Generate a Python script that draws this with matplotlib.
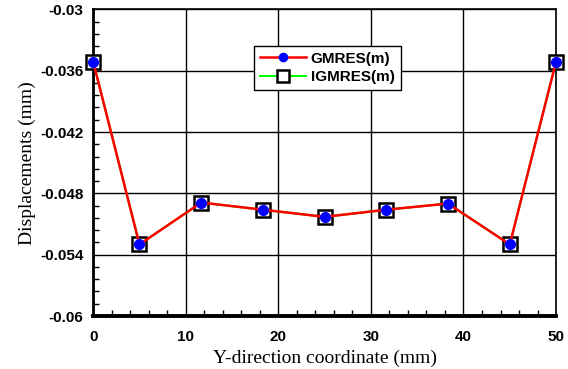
import numpy as np
from matplotlib import pyplot as plt
from matplotlib.ticker import MultipleLocator, AutoMinorLocator

y_coord = [0, 5, 11.67, 18.33, 25, 31.67, 38.33, 45, 50]
disp_gmres = [-0.0351, -0.0530, -0.0489, -0.0496, -0.0503, -0.0496, -0.0490, -0.0530, -0.0351]
disp_igmres = [-0.0351, -0.0530, -0.0489, -0.0496, -0.0503, -0.0496, -0.0490, -0.0530, -0.0351]

fig = plt.figure(figsize=(5.68, 3.69), dpi=100)
ax = fig.add_axes([0.164, 0.1436, 0.815, 0.831])

l2, = ax.plot(y_coord, disp_igmres, '-', color='#00ff00', lw=1.5, marker='s', ms=9.5,
              mfc='white', mec='black', mew=1.8, zorder=3, clip_on=False)
l1, = ax.plot(y_coord, disp_gmres, '-', color='red', lw=1.8, marker='o', ms=7,
              mfc='blue', mec='blue', zorder=4, clip_on=False)

ax.set_xlim(0, 50)
ax.set_ylim(-0.06, -0.03)
ax.xaxis.set_major_locator(MultipleLocator(10))
ax.xaxis.set_minor_locator(AutoMinorLocator(5))
ax.yaxis.set_minor_locator(AutoMinorLocator(5))
ax.set_yticks([-0.06, -0.054, -0.048, -0.042, -0.036, -0.03])
ax.set_yticklabels(['-0.06', '-0.054', '-0.048', '-0.042', '-0.036', '-0.03'])
ax.grid(True, which='major', color='black', lw=1.0)
ax.tick_params(which='both', direction='in', top=False, right=False, width=1)
ax.tick_params(which='major', length=0)
ax.tick_params(axis='y', which='major', pad=7)
ax.tick_params(axis='x', which='major', pad=10)
ax.tick_params(which='minor', length=4)
for lab in ax.get_xticklabels() + ax.get_yticklabels():
    lab.set_fontfamily('Liberation Sans')
    lab.set_fontweight('bold')
    lab.set_fontsize(11)
ax.spines['left'].set_linewidth(2.0)
ax.spines['bottom'].set_linewidth(2.8)
for s in ['top', 'right']:
    ax.spines[s].set_linewidth(1.2)

ax.set_xlabel('Y-direction coordinate (mm)', family='Liberation Serif', fontsize=14, labelpad=4)
ax.set_ylabel('Displacements (mm)', family='Liberation Serif', fontsize=14, labelpad=3)

leg = ax.legend([l1, l2], ['GMRES(m)', 'IGMRES(m)'], loc='upper left',
                bbox_to_anchor=(0.348, 0.882), fancybox=False, framealpha=1,
                edgecolor='black', prop={'family': 'Liberation Sans', 'weight': 'bold', 'size': 11},
                handlelength=3.0, handletextpad=0.3, borderpad=0.4, labelspacing=0.3,
                borderaxespad=0, markerscale=0.85)
leg.get_frame().set_linewidth(1.0)
leg.set_zorder(5)

fig.savefig('out.png', dpi=100)
